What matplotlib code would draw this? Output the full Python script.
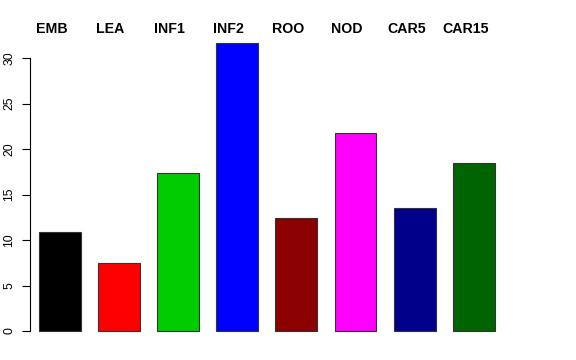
import matplotlib
matplotlib.use("Agg")
import matplotlib.pyplot as plt
import matplotlib.transforms as mtransforms

# values
labels = ["EMB", "LEA", "INF1", "INF2", "ROO", "NOD", "CAR5", "CAR15"]
values = [10.85, 7.47, 17.33, 31.65, 12.42, 21.8, 13.52, 18.43]
colors = ["#000000", "#FF0000", "#00CD00", "#0000FF",
          "#8B0000", "#FF00FF", "#00008B", "#006400"]
yticks = [0, 5, 10, 15, 20, 25, 30]

plt.rcParams["font.family"] = ["Liberation Sans", "DejaVu Sans"]

fig = plt.figure(figsize=(5.76, 3.6), dpi=100)
# axes box in figure fractions (R-like plot region)
ax = fig.add_axes([29.5 / 576, 1 - 342.6 / 360, (504 - 29.5) / 576, 311 / 360])

x = list(range(len(labels)))
ax.bar(x, values, width=0.708, color=colors, edgecolor="#333333", linewidth=0.8)

ax.set_xlim(-0.51, 7.51)
ax.set_ylim(-1.27, 32.9)

# R-style axis: only the left spine, spanning the tick range
for s in ["top", "right", "bottom"]:
    ax.spines[s].set_visible(False)
ax.spines["left"].set_bounds(yticks[0], yticks[-1])
ax.spines["left"].set_linewidth(0.8)
ax.set_xticks([])
ax.set_yticks(yticks)
ax.set_yticklabels([str(t) for t in yticks], rotation=90, va="center", fontsize=8.8)
ax.tick_params(axis="y", length=6, width=0.8, pad=4)

# group names on top
trans = mtransforms.blended_transform_factory(ax.transData, ax.transAxes)
for xi, lab in zip(x, labels):
    ax.text(xi - 0.14, 1.0074, lab, transform=trans, ha="center", va="center",
            fontsize=10.2, fontweight="bold")

fig.savefig("out.png", dpi=100)
